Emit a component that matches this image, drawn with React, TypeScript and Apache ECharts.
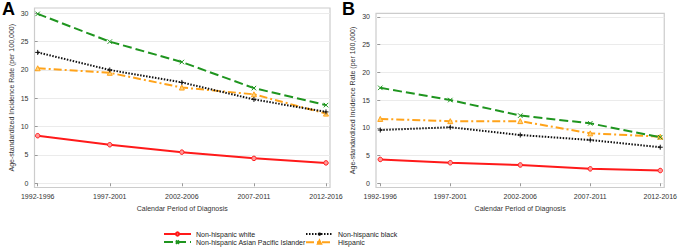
import React, { useEffect, useRef } from "react";
import * as echarts from "echarts";

const categories = ["1992-1996", "1997-2001", "2002-2006", "2007-2011", "2012-2016"];
const yTicks = [0, 5, 10, 15, 20, 25, 30];

const aWhite = [8.4, 6.8, 5.5, 4.4, 3.6];
const aBlack = [23.1, 20.0, 17.8, 14.8, 12.6];
const aApi = [29.9, 25.0, 21.4, 16.8, 13.8];
const aHisp = [20.3, 19.5, 16.9, 15.7, 12.3];

const bWhite = [4.3, 3.7, 3.3, 2.6, 2.3];
const bBlack = [9.6, 10.1, 8.7, 7.8, 6.5];
const bApi = [17.2, 15.0, 12.2, 10.8, 8.3];
const bHisp = [11.6, 11.2, 11.2, 9.0, 8.4];

const names = [
  "Non-hispanic white",
  "Non-hispanic black",
  "Non-hispanic Asian Pacific Islander",
  "Hispanic",
];

const FONT = "Liberation Sans";
const RED = "#ff1a1a";
const GREEN = "#1f951f";
const BLACK = "#111111";
const ORANGE = "#ffa31a";

function styleFor(k: number): any {
  if (k === 0) return { color: RED, type: "solid", symbol: "circle", fill: "#ff9a9a", size: 4.5 };
  if (k === 1) return { color: BLACK, type: [1.5, 1.5], symbol: "path://M5,0L5,10M0,5L10,5", fill: "none", size: 5 };
  if (k === 2) return { color: GREEN, type: [9, 4], symbol: "path://M0,0L10,10M10,0L0,10", fill: "none", size: 4.5 };
  return { color: ORANGE, type: [8, 3, 2, 3], symbol: "triangle", fill: "#ffd27a", size: 5 };
}

function toPairs(arr: number[]) {
  return arr.map((v, i) => [i, v]);
}

function makeSeries(panel: number, data: number[][]) {
  return data.map((d, k) => {
    const s = styleFor(k);
    return {
      name: names[k],
      type: "line",
      xAxisIndex: panel,
      yAxisIndex: panel,
      data: toPairs(d),
      symbol: s.symbol,
      symbolSize: s.size,
      showAllSymbol: true,
      lineStyle: { color: s.color, width: 2, type: s.type },
      itemStyle: { color: s.fill, borderColor: s.color, borderWidth: 1 },
      z: 10 - k,
    };
  });
}

function xAxis(gridIndex: number, min: number, max: number) {
  return {
    type: "value",
    gridIndex,
    min,
    max,
    name: "Calendar Period of Diagnosis",
    nameLocation: "middle",
    nameGap: 17,
    nameTextStyle: { fontFamily: FONT, fontSize: 7, color: "#333" },
    axisLine: { show: false },
    axisTick: { show: true, customValues: [0, 1, 2, 3, 4], length: 3, lineStyle: { color: "#999" } },
    axisLabel: {
      customValues: [0, 1, 2, 3, 4],
      formatter: (v: number) => categories[Math.round(v)],
      fontFamily: FONT,
      fontSize: 7,
      color: "#333",
      margin: 5,
      hideOverlap: false,
    },
    splitLine: { show: false },
  };
}

function yAxis(gridIndex: number, min: number, max: number) {
  return {
    type: "value",
    gridIndex,
    min,
    max,
    name: "Age-standardized Incidence Rate (per 100,000)",
    nameLocation: "middle",
    nameGap: 20,
    nameTextStyle: { fontFamily: FONT, fontSize: 7, color: "#333" },
    axisLine: { show: false },
    axisTick: { show: true, customValues: yTicks, length: 3, lineStyle: { color: "#999" } },
    axisLabel: {
      customValues: yTicks,
      fontFamily: FONT,
      fontSize: 7,
      color: "#333",
      margin: 6,
    },
    splitLine: { show: true, lineStyle: { color: "#ebebeb", width: 1 } },
  };
}

function legend(data: string[], left: number) {
  return {
    data,
    orient: "vertical",
    left,
    top: 230,
    height: 40,
    itemWidth: 27,
    itemHeight: 4,
    itemGap: 0,
    padding: 0,
    textStyle: { fontFamily: FONT, fontSize: 7, color: "#222", lineHeight: 8 },
  };
}

export default function App() {
  const ref = useRef<HTMLDivElement>(null);
  useEffect(() => {
    if (!ref.current) return;
    const chart = echarts.init(ref.current, undefined, { renderer: "svg" });
    const option: any = {
      animation: false,
      backgroundColor: "#ffffff",
      grid: [
        { left: 34.5, top: 8, width: 295.5, height: 179.5, show: true, borderColor: "#cccccc", borderWidth: 1.2, backgroundColor: "transparent" },
        { left: 376, top: 13.3, width: 290.5, height: 174.2, show: true, borderColor: "#cccccc", borderWidth: 1.2, backgroundColor: "transparent" },
      ],
      xAxis: [xAxis(0, -0.0444, 4.0555), xAxis(1, -0.061, 4.057)],
      yAxis: [yAxis(0, -0.741, 30.935), yAxis(1, -0.757, 30.63)],
      legend: [legend([names[0], names[2]], 163), legend([names[1], names[3]], 305)],
      graphic: [
        { type: "text", left: 2, top: 0, style: { text: "A", font: `bold 18px ${FONT}`, fill: "#000" } },
        { type: "text", left: 342, top: 0, style: { text: "B", font: `bold 18px ${FONT}`, fill: "#000" } },
      ],
      series: [
        ...makeSeries(0, [aWhite, aBlack, aApi, aHisp]),
        ...makeSeries(1, [bWhite, bBlack, bApi, bHisp]),
      ],
    };
    chart.setOption(option);
    return () => chart.dispose();
  }, []);
  return <div ref={ref} style={{ position: "fixed", left: 0, top: 0, width: 680, height: 248 }} />;
}
